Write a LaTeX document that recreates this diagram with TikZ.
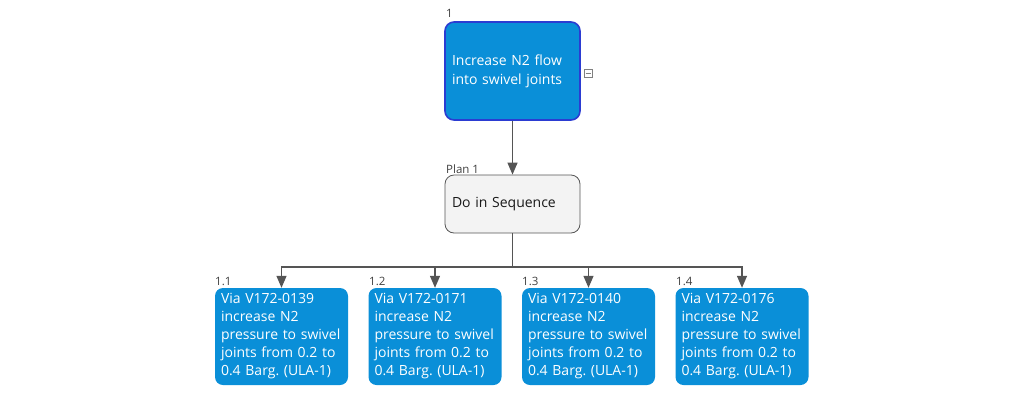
\documentclass[tikz,border=0pt]{standalone}
\usepackage{fontspec}
\setmainfont{Open Sans}
\newfontfamily\boxfont{Open Sans}
\newfontfamily\labfont{Open Sans}
\usetikzlibrary{arrows.meta}
\definecolor{boxblue}{HTML}{0A8FD8}
\definecolor{topborder}{HTML}{2B3CD2}
\definecolor{linegray}{HTML}{555555}
\definecolor{labgray}{HTML}{404040}
\definecolor{planfill}{HTML}{F3F3F3}
\tikzset{
  topbox/.style={draw=topborder, line width=1.6pt, fill=boxblue, rounded corners=9pt,
    minimum width=135pt, minimum height=98pt, text width=121pt, align=left,
    inner sep=0pt, text=white, font=\boxfont\fontsize{14}{19}\selectfont},
  planbox/.style={draw=linegray, line width=0.8pt, fill=planfill, rounded corners=9pt,
    minimum width=135pt, minimum height=58pt, text width=121pt, align=left,
    inner sep=0pt, text=black!90, font=\boxfont\fontsize{14}{19}\selectfont},
  childbox/.style={fill=boxblue, rounded corners=8pt,
    minimum width=133pt, minimum height=97pt, text width=121pt, align=left,
    inner sep=0pt, text=white, font=\boxfont\fontsize{14}{18}\selectfont},
  numlab/.style={text=labgray, font=\labfont\fontsize{11.5}{13}\selectfont, inner sep=0pt, anchor=base west},
  conn/.style={draw=linegray, line width=1.3pt},
  arr/.style={conn, -{Triangle[width=10pt,length=12pt]}},
  minusbox/.style={draw=gray, fill=white, line width=0.6pt, minimum width=8pt, minimum height=8pt, inner sep=0pt}
}
\frenchspacing
\begin{document}
\begin{tikzpicture}[x=1pt,y=-1pt]
\useasboundingbox (0,0) rectangle (1024,405);
\node[topbox] (top) at (512.5,71) {Increase N2 flow\\into swivel joints};
\node[numlab] (toplab) at (446,17) {1};
\node[minusbox] (minus) at (588,73) {};
\draw[gray, line width=0.8pt] (minus.center) ++(-2.5,0) -- ++(5,0);

\node[planbox] (plan) at (512.5,204) {Do in Sequence};
\node[numlab] (planlab) at (446,173) {Plan 1};

\node[childbox] (c1) at (281.5,336.5) {Via V172-0139\\increase N2\\pressure to swivel\\joints from 0.2 to\\0.4 Barg. (ULA-1)};
\node[childbox] (c2) at (435,336.5) {Via V172-0171\\increase N2\\pressure to swivel\\joints from 0.2 to\\0.4 Barg. (ULA-1)};
\node[childbox] (c3) at (588.5,336.5) {Via V172-0140\\increase N2\\pressure to swivel\\joints from 0.2 to\\0.4 Barg. (ULA-1)};
\node[childbox] (c4) at (742,336.5) {Via V172-0176\\increase N2\\pressure to swivel\\joints from 0.2 to\\0.4 Barg. (ULA-1)};
\node[numlab] (l1) at (215,285) {1.1};
\node[numlab] (l2) at (369,285) {1.2};
\node[numlab] (l3) at (522,285) {1.3};
\node[numlab] (l4) at (676,285) {1.4};

\draw[arr] (top.south) -- (plan.north);
\coordinate (bus) at (512.5,267);
\draw[conn] (plan.south) -- (bus);
\draw[arr] (bus) -| (c1.north);
\draw[arr] (bus) -| (c2.north);
\draw[arr] (bus) -| (c3.north);
\draw[arr] (bus) -| (c4.north);
\end{tikzpicture}
\end{document}
